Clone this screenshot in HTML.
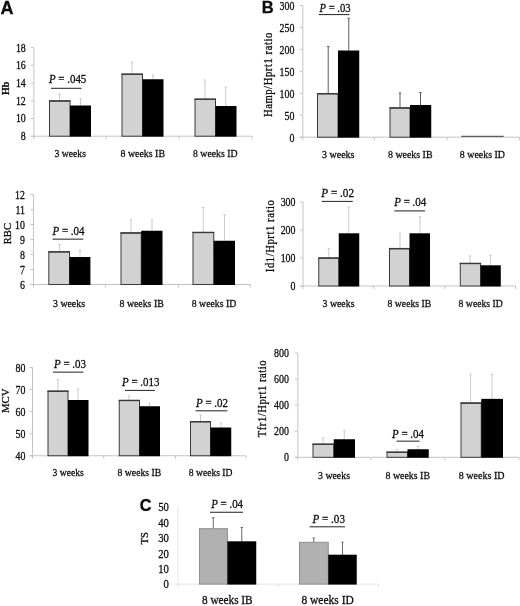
<!DOCTYPE html>
<html lang="en"><head><meta charset="utf-8"><title>Figure</title>
<style>html,body{margin:0;padding:0;background:#fff}svg{display:block;will-change:transform;opacity:.999}text{font-family:"Liberation Serif", serif;fill:#0c0c0c;stroke:#0c0c0c;stroke-width:.28px;paint-order:stroke fill}</style>
</head><body>
<svg width="520" height="606" viewBox="0 0 520 606">
<rect width="520" height="606" fill="#fff"/>
<line x1="33.8" y1="47.6" x2="33.8" y2="139.2" stroke="#c4c4c4" stroke-width="1"/>
<line x1="30.8" y1="136.2" x2="252" y2="136.2" stroke="#c4c4c4" stroke-width="1"/>
<line x1="30.8" y1="47.6" x2="33.8" y2="47.6" stroke="#c4c4c4" stroke-width="1"/>
<text transform="translate(25.8,51.6) scale(0.86,1)" font-size="11.5" text-anchor="end">18</text>
<line x1="30.8" y1="65.32" x2="33.8" y2="65.32" stroke="#c4c4c4" stroke-width="1"/>
<text transform="translate(25.8,69.31) scale(0.86,1)" font-size="11.5" text-anchor="end">16</text>
<line x1="30.8" y1="83.04" x2="33.8" y2="83.04" stroke="#c4c4c4" stroke-width="1"/>
<text transform="translate(25.8,87.03) scale(0.86,1)" font-size="11.5" text-anchor="end">14</text>
<line x1="30.8" y1="100.76" x2="33.8" y2="100.76" stroke="#c4c4c4" stroke-width="1"/>
<text transform="translate(25.8,104.75) scale(0.86,1)" font-size="11.5" text-anchor="end">12</text>
<line x1="30.8" y1="118.48" x2="33.8" y2="118.48" stroke="#c4c4c4" stroke-width="1"/>
<text transform="translate(25.8,122.47) scale(0.86,1)" font-size="11.5" text-anchor="end">10</text>
<line x1="30.8" y1="136.2" x2="33.8" y2="136.2" stroke="#c4c4c4" stroke-width="1"/>
<text transform="translate(25.8,140.19) scale(0.86,1)" font-size="11.5" text-anchor="end">8</text>
<line x1="106" y1="136.2" x2="106" y2="139.2" stroke="#c4c4c4" stroke-width="1"/>
<line x1="179" y1="136.2" x2="179" y2="139.2" stroke="#c4c4c4" stroke-width="1"/>
<line x1="252" y1="136.2" x2="252" y2="139.2" stroke="#c4c4c4" stroke-width="1"/>
<line x1="59.5" y1="93.75" x2="59.5" y2="100.5" stroke="#cacaca" stroke-width="1"/>
<line x1="58.3" y1="93.75" x2="60.7" y2="93.75" stroke="#cacaca" stroke-width="1"/>
<line x1="80.5" y1="98.75" x2="80.5" y2="105.5" stroke="#cacaca" stroke-width="1"/>
<line x1="79.3" y1="98.75" x2="81.7" y2="98.75" stroke="#cacaca" stroke-width="1"/>
<line x1="132" y1="62" x2="132" y2="73.75" stroke="#cacaca" stroke-width="1"/>
<line x1="130.8" y1="62" x2="133.2" y2="62" stroke="#cacaca" stroke-width="1"/>
<line x1="153" y1="75" x2="153" y2="79.25" stroke="#cacaca" stroke-width="1"/>
<line x1="151.8" y1="75" x2="154.2" y2="75" stroke="#cacaca" stroke-width="1"/>
<line x1="205" y1="80" x2="205" y2="98.75" stroke="#cacaca" stroke-width="1"/>
<line x1="203.8" y1="80" x2="206.2" y2="80" stroke="#cacaca" stroke-width="1"/>
<line x1="225.75" y1="87" x2="225.75" y2="106" stroke="#cacaca" stroke-width="1"/>
<line x1="224.55" y1="87" x2="226.95" y2="87" stroke="#cacaca" stroke-width="1"/>
<rect x="49.5" y="101" width="20.5" height="35.2" fill="#d2d2d2" stroke="#3a3a3a" stroke-width="1"/>
<line x1="48.9" y1="100.95" x2="70.5" y2="100.95" stroke="#3a3a3a" stroke-width="1.45"/>
<rect x="70" y="105.5" width="21" height="31.2" fill="#000"/>
<rect x="122" y="74.25" width="20.5" height="61.95" fill="#d2d2d2" stroke="#3a3a3a" stroke-width="1"/>
<line x1="121.4" y1="74.2" x2="143" y2="74.2" stroke="#3a3a3a" stroke-width="1.45"/>
<rect x="142.5" y="79.25" width="21" height="57.45" fill="#000"/>
<rect x="195" y="99.25" width="20.5" height="36.95" fill="#d2d2d2" stroke="#3a3a3a" stroke-width="1"/>
<line x1="194.4" y1="99.2" x2="216" y2="99.2" stroke="#3a3a3a" stroke-width="1.45"/>
<rect x="215.5" y="106" width="21" height="30.7" fill="#000"/>
<line x1="51" y1="88.3" x2="81.6" y2="88.3" stroke="#222" stroke-width="1"/>
<text x="49" y="82.7" font-size="11.5" textLength="37.3" lengthAdjust="spacingAndGlyphs"><tspan font-style="italic">P</tspan> = .045</text>
<text x="54.5" y="157.1" font-size="11" textLength="31.5" lengthAdjust="spacingAndGlyphs">3 weeks</text>
<text x="120.5" y="157.1" font-size="11" textLength="44.5" lengthAdjust="spacingAndGlyphs">8 weeks IB</text>
<text x="193" y="157.1" font-size="11" textLength="44.5" lengthAdjust="spacingAndGlyphs">8 weeks ID</text>
<text transform="translate(9,94.9) rotate(-90)" font-size="11" font-weight="bold" textLength="13.3" lengthAdjust="spacingAndGlyphs">Hb</text>
<line x1="33.5" y1="194.6" x2="33.5" y2="287.5" stroke="#c4c4c4" stroke-width="1"/>
<line x1="30.5" y1="284.5" x2="250.4" y2="284.5" stroke="#c4c4c4" stroke-width="1"/>
<line x1="30.5" y1="194.6" x2="33.5" y2="194.6" stroke="#c4c4c4" stroke-width="1"/>
<text transform="translate(25,198.59) scale(0.86,1)" font-size="11.5" text-anchor="end">12</text>
<line x1="30.5" y1="209.58" x2="33.5" y2="209.58" stroke="#c4c4c4" stroke-width="1"/>
<text transform="translate(25,213.58) scale(0.86,1)" font-size="11.5" text-anchor="end">11</text>
<line x1="30.5" y1="224.57" x2="33.5" y2="224.57" stroke="#c4c4c4" stroke-width="1"/>
<text transform="translate(25,228.56) scale(0.86,1)" font-size="11.5" text-anchor="end">10</text>
<line x1="30.5" y1="239.55" x2="33.5" y2="239.55" stroke="#c4c4c4" stroke-width="1"/>
<text transform="translate(25,243.54) scale(0.86,1)" font-size="11.5" text-anchor="end">9</text>
<line x1="30.5" y1="254.53" x2="33.5" y2="254.53" stroke="#c4c4c4" stroke-width="1"/>
<text transform="translate(25,258.53) scale(0.86,1)" font-size="11.5" text-anchor="end">8</text>
<line x1="30.5" y1="269.52" x2="33.5" y2="269.52" stroke="#c4c4c4" stroke-width="1"/>
<text transform="translate(25,273.51) scale(0.86,1)" font-size="11.5" text-anchor="end">7</text>
<line x1="30.5" y1="284.5" x2="33.5" y2="284.5" stroke="#c4c4c4" stroke-width="1"/>
<text transform="translate(25,288.5) scale(0.86,1)" font-size="11.5" text-anchor="end">6</text>
<line x1="105.4" y1="284.5" x2="105.4" y2="287.5" stroke="#c4c4c4" stroke-width="1"/>
<line x1="178.4" y1="284.5" x2="178.4" y2="287.5" stroke="#c4c4c4" stroke-width="1"/>
<line x1="250.4" y1="284.5" x2="250.4" y2="287.5" stroke="#c4c4c4" stroke-width="1"/>
<line x1="59.5" y1="244.5" x2="59.5" y2="251.75" stroke="#cacaca" stroke-width="1"/>
<line x1="58.3" y1="244.5" x2="60.7" y2="244.5" stroke="#cacaca" stroke-width="1"/>
<line x1="80" y1="250.5" x2="80" y2="257" stroke="#cacaca" stroke-width="1"/>
<line x1="78.8" y1="250.5" x2="81.2" y2="250.5" stroke="#cacaca" stroke-width="1"/>
<line x1="131" y1="219.3" x2="131" y2="232.5" stroke="#cacaca" stroke-width="1"/>
<line x1="129.8" y1="219.3" x2="132.2" y2="219.3" stroke="#cacaca" stroke-width="1"/>
<line x1="152" y1="220.1" x2="152" y2="230.75" stroke="#cacaca" stroke-width="1"/>
<line x1="150.8" y1="220.1" x2="153.2" y2="220.1" stroke="#cacaca" stroke-width="1"/>
<line x1="203.25" y1="207.5" x2="203.25" y2="232" stroke="#cacaca" stroke-width="1"/>
<line x1="202.05" y1="207.5" x2="204.45" y2="207.5" stroke="#cacaca" stroke-width="1"/>
<line x1="224.5" y1="214.5" x2="224.5" y2="240.75" stroke="#cacaca" stroke-width="1"/>
<line x1="223.3" y1="214.5" x2="225.7" y2="214.5" stroke="#cacaca" stroke-width="1"/>
<rect x="48.8" y="251.9" width="20.7" height="32.6" fill="#d2d2d2" stroke="#3a3a3a" stroke-width="1"/>
<line x1="48.2" y1="251.85" x2="70" y2="251.85" stroke="#3a3a3a" stroke-width="1.45"/>
<rect x="69.5" y="257" width="20.9" height="28" fill="#000"/>
<rect x="121" y="233" width="20.25" height="51.5" fill="#d2d2d2" stroke="#3a3a3a" stroke-width="1"/>
<line x1="120.4" y1="232.95" x2="141.75" y2="232.95" stroke="#3a3a3a" stroke-width="1.45"/>
<rect x="141.25" y="230.75" width="21.25" height="54.25" fill="#000"/>
<rect x="193" y="232.5" width="20.75" height="52" fill="#d2d2d2" stroke="#3a3a3a" stroke-width="1"/>
<line x1="192.4" y1="232.45" x2="214.25" y2="232.45" stroke="#3a3a3a" stroke-width="1.45"/>
<rect x="213.75" y="240.75" width="21.25" height="44.25" fill="#000"/>
<line x1="52.5" y1="239.15" x2="83.3" y2="239.15" stroke="#222" stroke-width="1"/>
<text x="52.5" y="234.5" font-size="11.5" textLength="32" lengthAdjust="spacingAndGlyphs"><tspan font-style="italic">P</tspan> = .04</text>
<text x="53" y="307.1" font-size="11" textLength="32" lengthAdjust="spacingAndGlyphs">3 weeks</text>
<text x="119.5" y="307.1" font-size="11" textLength="44.25" lengthAdjust="spacingAndGlyphs">8 weeks IB</text>
<text x="191.75" y="307.1" font-size="11" textLength="44.5" lengthAdjust="spacingAndGlyphs">8 weeks ID</text>
<text transform="translate(11.3,244.3) rotate(-90)" font-size="11" textLength="21.3" lengthAdjust="spacingAndGlyphs">RBC</text>
<line x1="32.5" y1="367.5" x2="32.5" y2="458.75" stroke="#c4c4c4" stroke-width="1"/>
<line x1="29.5" y1="455.75" x2="246" y2="455.75" stroke="#c4c4c4" stroke-width="1"/>
<line x1="29.5" y1="367.5" x2="32.5" y2="367.5" stroke="#c4c4c4" stroke-width="1"/>
<text transform="translate(25.5,371.5) scale(0.86,1)" font-size="11.5" text-anchor="end">80</text>
<line x1="29.5" y1="389.56" x2="32.5" y2="389.56" stroke="#c4c4c4" stroke-width="1"/>
<text transform="translate(25.5,393.56) scale(0.86,1)" font-size="11.5" text-anchor="end">70</text>
<line x1="29.5" y1="411.62" x2="32.5" y2="411.62" stroke="#c4c4c4" stroke-width="1"/>
<text transform="translate(25.5,415.62) scale(0.86,1)" font-size="11.5" text-anchor="end">60</text>
<line x1="29.5" y1="433.69" x2="32.5" y2="433.69" stroke="#c4c4c4" stroke-width="1"/>
<text transform="translate(25.5,437.68) scale(0.86,1)" font-size="11.5" text-anchor="end">50</text>
<line x1="29.5" y1="455.75" x2="32.5" y2="455.75" stroke="#c4c4c4" stroke-width="1"/>
<text transform="translate(25.5,459.75) scale(0.86,1)" font-size="11.5" text-anchor="end">40</text>
<line x1="103.75" y1="455.75" x2="103.75" y2="458.75" stroke="#c4c4c4" stroke-width="1"/>
<line x1="175.4" y1="455.75" x2="175.4" y2="458.75" stroke="#c4c4c4" stroke-width="1"/>
<line x1="246" y1="455.75" x2="246" y2="458.75" stroke="#c4c4c4" stroke-width="1"/>
<line x1="58" y1="379.5" x2="58" y2="390.75" stroke="#cacaca" stroke-width="1"/>
<line x1="56.8" y1="379.5" x2="59.2" y2="379.5" stroke="#cacaca" stroke-width="1"/>
<line x1="78" y1="388.9" x2="78" y2="400" stroke="#cacaca" stroke-width="1"/>
<line x1="76.8" y1="388.9" x2="79.2" y2="388.9" stroke="#cacaca" stroke-width="1"/>
<line x1="129" y1="396" x2="129" y2="400" stroke="#cacaca" stroke-width="1"/>
<line x1="127.8" y1="396" x2="130.2" y2="396" stroke="#cacaca" stroke-width="1"/>
<line x1="149.5" y1="403" x2="149.5" y2="406.25" stroke="#cacaca" stroke-width="1"/>
<line x1="148.3" y1="403" x2="150.7" y2="403" stroke="#cacaca" stroke-width="1"/>
<line x1="200.5" y1="415" x2="200.5" y2="421.25" stroke="#cacaca" stroke-width="1"/>
<line x1="199.3" y1="415" x2="201.7" y2="415" stroke="#cacaca" stroke-width="1"/>
<line x1="221" y1="423" x2="221" y2="427.5" stroke="#cacaca" stroke-width="1"/>
<line x1="219.8" y1="423" x2="222.2" y2="423" stroke="#cacaca" stroke-width="1"/>
<rect x="48" y="391.25" width="20" height="64.5" fill="#d2d2d2" stroke="#3a3a3a" stroke-width="1"/>
<line x1="47.4" y1="391.2" x2="68.5" y2="391.2" stroke="#3a3a3a" stroke-width="1.45"/>
<rect x="68" y="400" width="20.5" height="56.25" fill="#000"/>
<rect x="119.25" y="400.5" width="20.25" height="55.25" fill="#d2d2d2" stroke="#3a3a3a" stroke-width="1"/>
<line x1="118.65" y1="400.45" x2="140" y2="400.45" stroke="#3a3a3a" stroke-width="1.45"/>
<rect x="139.5" y="406.25" width="20.5" height="50" fill="#000"/>
<rect x="190.5" y="421.75" width="20" height="34" fill="#d2d2d2" stroke="#3a3a3a" stroke-width="1"/>
<line x1="189.9" y1="421.7" x2="211" y2="421.7" stroke="#3a3a3a" stroke-width="1.45"/>
<rect x="210.5" y="427.5" width="20.75" height="28.75" fill="#000"/>
<line x1="53" y1="372.15" x2="83.3" y2="372.15" stroke="#222" stroke-width="1"/>
<text x="54" y="368" font-size="11.5" textLength="32" lengthAdjust="spacingAndGlyphs"><tspan font-style="italic">P</tspan> = .03</text>
<line x1="125" y1="390.4" x2="155.05" y2="390.4" stroke="#222" stroke-width="1"/>
<text x="122" y="385.5" font-size="11.5" textLength="37.5" lengthAdjust="spacingAndGlyphs"><tspan font-style="italic">P</tspan> = .013</text>
<line x1="195.5" y1="410.8" x2="227.3" y2="410.8" stroke="#222" stroke-width="1"/>
<text x="196" y="406.7" font-size="11.5" textLength="32" lengthAdjust="spacingAndGlyphs"><tspan font-style="italic">P</tspan> = .02</text>
<text x="52.5" y="476.1" font-size="11" textLength="31.25" lengthAdjust="spacingAndGlyphs">3 weeks</text>
<text x="117.5" y="476.1" font-size="11" textLength="43.75" lengthAdjust="spacingAndGlyphs">8 weeks IB</text>
<text x="188.75" y="476.1" font-size="11" textLength="43.75" lengthAdjust="spacingAndGlyphs">8 weeks ID</text>
<text transform="translate(8.5,413) rotate(-90)" font-size="11" textLength="24.6" lengthAdjust="spacingAndGlyphs">MCV</text>
<line x1="302.8" y1="5.5" x2="302.8" y2="140.2" stroke="#c4c4c4" stroke-width="1"/>
<line x1="299.8" y1="137.2" x2="519.5" y2="137.2" stroke="#c4c4c4" stroke-width="1"/>
<line x1="299.8" y1="5.5" x2="302.8" y2="5.5" stroke="#c4c4c4" stroke-width="1"/>
<text transform="translate(294.4,9.99) scale(0.86,1)" font-size="11.5" text-anchor="end">300</text>
<line x1="299.8" y1="27.45" x2="302.8" y2="27.45" stroke="#c4c4c4" stroke-width="1"/>
<text transform="translate(294.4,31.95) scale(0.86,1)" font-size="11.5" text-anchor="end">250</text>
<line x1="299.8" y1="49.4" x2="302.8" y2="49.4" stroke="#c4c4c4" stroke-width="1"/>
<text transform="translate(294.4,53.9) scale(0.86,1)" font-size="11.5" text-anchor="end">200</text>
<line x1="299.8" y1="71.35" x2="302.8" y2="71.35" stroke="#c4c4c4" stroke-width="1"/>
<text transform="translate(294.4,75.84) scale(0.86,1)" font-size="11.5" text-anchor="end">150</text>
<line x1="299.8" y1="93.3" x2="302.8" y2="93.3" stroke="#c4c4c4" stroke-width="1"/>
<text transform="translate(294.4,97.8) scale(0.86,1)" font-size="11.5" text-anchor="end">100</text>
<line x1="299.8" y1="115.25" x2="302.8" y2="115.25" stroke="#c4c4c4" stroke-width="1"/>
<text transform="translate(294.4,119.75) scale(0.86,1)" font-size="11.5" text-anchor="end">50</text>
<line x1="299.8" y1="137.2" x2="302.8" y2="137.2" stroke="#c4c4c4" stroke-width="1"/>
<text transform="translate(294.4,141.69) scale(0.86,1)" font-size="11.5" text-anchor="end">0</text>
<line x1="374.4" y1="137.2" x2="374.4" y2="140.2" stroke="#c4c4c4" stroke-width="1"/>
<line x1="447" y1="137.2" x2="447" y2="140.2" stroke="#c4c4c4" stroke-width="1"/>
<line x1="519.5" y1="137.2" x2="519.5" y2="140.2" stroke="#c4c4c4" stroke-width="1"/>
<line x1="328.2" y1="46.6" x2="328.2" y2="93.25" stroke="#5a5a5a" stroke-width="1"/>
<line x1="327" y1="46.6" x2="329.4" y2="46.6" stroke="#5a5a5a" stroke-width="1"/>
<line x1="348.75" y1="18.2" x2="348.75" y2="50.5" stroke="#5a5a5a" stroke-width="1"/>
<line x1="347.55" y1="18.2" x2="349.95" y2="18.2" stroke="#5a5a5a" stroke-width="1"/>
<line x1="400" y1="93" x2="400" y2="107.5" stroke="#5a5a5a" stroke-width="1"/>
<line x1="398.8" y1="93" x2="401.2" y2="93" stroke="#5a5a5a" stroke-width="1"/>
<line x1="420.5" y1="92.5" x2="420.5" y2="105" stroke="#5a5a5a" stroke-width="1"/>
<line x1="419.3" y1="92.5" x2="421.7" y2="92.5" stroke="#5a5a5a" stroke-width="1"/>
<rect x="317.5" y="93.75" width="20.5" height="43.45" fill="#d2d2d2" stroke="#3a3a3a" stroke-width="1"/>
<line x1="316.9" y1="93.7" x2="338.5" y2="93.7" stroke="#3a3a3a" stroke-width="1.45"/>
<rect x="338" y="50.5" width="21.25" height="87.2" fill="#000"/>
<rect x="390" y="108" width="20" height="29.2" fill="#d2d2d2" stroke="#3a3a3a" stroke-width="1"/>
<line x1="389.4" y1="107.95" x2="410.5" y2="107.95" stroke="#3a3a3a" stroke-width="1.45"/>
<rect x="410" y="105" width="21.25" height="32.7" fill="#000"/>
<rect x="461.25" y="135.8" width="42.5" height="1" fill="#3c3c3c"/>
<line x1="318.6" y1="14.6" x2="349.4" y2="14.6" stroke="#222" stroke-width="1"/>
<text x="319.6" y="11.85" font-size="11.5" textLength="31" lengthAdjust="spacingAndGlyphs"><tspan font-style="italic">P</tspan> = .03</text>
<text x="322" y="158.1" font-size="11" textLength="32.5" lengthAdjust="spacingAndGlyphs">3 weeks</text>
<text x="388" y="158.1" font-size="11" textLength="44.5" lengthAdjust="spacingAndGlyphs">8 weeks IB</text>
<text x="459.8" y="158.1" font-size="11" textLength="45.2" lengthAdjust="spacingAndGlyphs">8 weeks ID</text>
<text transform="translate(271.5,117.1) rotate(-90) scale(0.86,1)" font-size="12.3" textLength="98.14" lengthAdjust="spacing">Hamp/Hprt1 ratio</text>
<line x1="303" y1="202" x2="303" y2="289" stroke="#c4c4c4" stroke-width="1"/>
<line x1="300" y1="286" x2="515.6" y2="286" stroke="#c4c4c4" stroke-width="1"/>
<line x1="300" y1="202" x2="303" y2="202" stroke="#c4c4c4" stroke-width="1"/>
<text transform="translate(295.5,205.99) scale(0.86,1)" font-size="11.5" text-anchor="end">300</text>
<line x1="300" y1="230" x2="303" y2="230" stroke="#c4c4c4" stroke-width="1"/>
<text transform="translate(295.5,233.99) scale(0.86,1)" font-size="11.5" text-anchor="end">200</text>
<line x1="300" y1="258" x2="303" y2="258" stroke="#c4c4c4" stroke-width="1"/>
<text transform="translate(295.5,262) scale(0.86,1)" font-size="11.5" text-anchor="end">100</text>
<line x1="300" y1="286" x2="303" y2="286" stroke="#c4c4c4" stroke-width="1"/>
<text transform="translate(295.5,290) scale(0.86,1)" font-size="11.5" text-anchor="end">0</text>
<line x1="373.8" y1="286" x2="373.8" y2="289" stroke="#c4c4c4" stroke-width="1"/>
<line x1="444.8" y1="286" x2="444.8" y2="289" stroke="#c4c4c4" stroke-width="1"/>
<line x1="515.6" y1="286" x2="515.6" y2="289" stroke="#c4c4c4" stroke-width="1"/>
<line x1="328.75" y1="248.4" x2="328.75" y2="258" stroke="#cacaca" stroke-width="1"/>
<line x1="327.55" y1="248.4" x2="329.95" y2="248.4" stroke="#cacaca" stroke-width="1"/>
<line x1="348.75" y1="207.2" x2="348.75" y2="233.75" stroke="#cacaca" stroke-width="1"/>
<line x1="347.55" y1="207.2" x2="349.95" y2="207.2" stroke="#cacaca" stroke-width="1"/>
<line x1="400" y1="233" x2="400" y2="248.75" stroke="#cacaca" stroke-width="1"/>
<line x1="398.8" y1="233" x2="401.2" y2="233" stroke="#cacaca" stroke-width="1"/>
<line x1="420" y1="216.7" x2="420" y2="233.75" stroke="#cacaca" stroke-width="1"/>
<line x1="418.8" y1="216.7" x2="421.2" y2="216.7" stroke="#cacaca" stroke-width="1"/>
<line x1="470" y1="255.9" x2="470" y2="263.25" stroke="#cacaca" stroke-width="1"/>
<line x1="468.8" y1="255.9" x2="471.2" y2="255.9" stroke="#cacaca" stroke-width="1"/>
<line x1="490.5" y1="255.2" x2="490.5" y2="265.5" stroke="#cacaca" stroke-width="1"/>
<line x1="489.3" y1="255.2" x2="491.7" y2="255.2" stroke="#cacaca" stroke-width="1"/>
<rect x="318.75" y="258.1" width="20" height="27.9" fill="#d2d2d2" stroke="#3a3a3a" stroke-width="1"/>
<line x1="318.15" y1="258.05" x2="339.25" y2="258.05" stroke="#3a3a3a" stroke-width="1.45"/>
<rect x="338.75" y="233.3" width="20.5" height="53.2" fill="#000"/>
<rect x="389.5" y="248.7" width="20" height="37.3" fill="#d2d2d2" stroke="#3a3a3a" stroke-width="1"/>
<line x1="388.9" y1="248.65" x2="410" y2="248.65" stroke="#3a3a3a" stroke-width="1.45"/>
<rect x="409.5" y="233.3" width="20.5" height="53.2" fill="#000"/>
<rect x="460.3" y="263.5" width="20.3" height="22.5" fill="#d2d2d2" stroke="#3a3a3a" stroke-width="1"/>
<line x1="459.7" y1="263.45" x2="481.1" y2="263.45" stroke="#3a3a3a" stroke-width="1.45"/>
<rect x="480.6" y="265.3" width="20.2" height="21.2" fill="#000"/>
<line x1="321.75" y1="201.4" x2="352.8" y2="201.4" stroke="#222" stroke-width="1"/>
<text x="321.3" y="197.2" font-size="11.5" textLength="32.7" lengthAdjust="spacingAndGlyphs"><tspan font-style="italic">P</tspan> = .02</text>
<line x1="394.25" y1="210.9" x2="425.05" y2="210.9" stroke="#222" stroke-width="1"/>
<text x="394.25" y="206.4" font-size="11.5" textLength="32" lengthAdjust="spacingAndGlyphs"><tspan font-style="italic">P</tspan> = .04</text>
<text x="322.5" y="306.8" font-size="11" textLength="32" lengthAdjust="spacingAndGlyphs">3 weeks</text>
<text x="387.6" y="306.8" font-size="11" textLength="43.6" lengthAdjust="spacingAndGlyphs">8 weeks IB</text>
<text x="458.6" y="306.8" font-size="11" textLength="44.2" lengthAdjust="spacingAndGlyphs">8 weeks ID</text>
<text transform="translate(273.6,272.2) rotate(-90) scale(0.86,1)" font-size="12.3" textLength="83.72" lengthAdjust="spacing">Id1/Hprt1 ratio</text>
<line x1="297.8" y1="353" x2="297.8" y2="460.3" stroke="#c4c4c4" stroke-width="1"/>
<line x1="294.8" y1="457.3" x2="519" y2="457.3" stroke="#c4c4c4" stroke-width="1"/>
<line x1="294.8" y1="353" x2="297.8" y2="353" stroke="#c4c4c4" stroke-width="1"/>
<text transform="translate(288.9,357) scale(0.86,1)" font-size="11.5" text-anchor="end">800</text>
<line x1="294.8" y1="379.07" x2="297.8" y2="379.07" stroke="#c4c4c4" stroke-width="1"/>
<text transform="translate(288.9,383.07) scale(0.86,1)" font-size="11.5" text-anchor="end">600</text>
<line x1="294.8" y1="405.15" x2="297.8" y2="405.15" stroke="#c4c4c4" stroke-width="1"/>
<text transform="translate(288.9,409.14) scale(0.86,1)" font-size="11.5" text-anchor="end">400</text>
<line x1="294.8" y1="431.23" x2="297.8" y2="431.23" stroke="#c4c4c4" stroke-width="1"/>
<text transform="translate(288.9,435.22) scale(0.86,1)" font-size="11.5" text-anchor="end">200</text>
<line x1="294.8" y1="457.3" x2="297.8" y2="457.3" stroke="#c4c4c4" stroke-width="1"/>
<text transform="translate(288.9,461.3) scale(0.86,1)" font-size="11.5" text-anchor="end">0</text>
<line x1="370.75" y1="457.3" x2="370.75" y2="460.3" stroke="#c4c4c4" stroke-width="1"/>
<line x1="445" y1="457.3" x2="445" y2="460.3" stroke="#c4c4c4" stroke-width="1"/>
<line x1="519" y1="457.3" x2="519" y2="460.3" stroke="#c4c4c4" stroke-width="1"/>
<line x1="323" y1="438" x2="323" y2="443.75" stroke="#cacaca" stroke-width="1"/>
<line x1="321.8" y1="438" x2="324.2" y2="438" stroke="#cacaca" stroke-width="1"/>
<line x1="344.25" y1="430.75" x2="344.25" y2="439.25" stroke="#cacaca" stroke-width="1"/>
<line x1="343.05" y1="430.75" x2="345.45" y2="430.75" stroke="#cacaca" stroke-width="1"/>
<line x1="397" y1="449.5" x2="397" y2="451.75" stroke="#cacaca" stroke-width="1"/>
<line x1="395.8" y1="449.5" x2="398.2" y2="449.5" stroke="#cacaca" stroke-width="1"/>
<line x1="418" y1="446.25" x2="418" y2="449.25" stroke="#cacaca" stroke-width="1"/>
<line x1="416.8" y1="446.25" x2="419.2" y2="446.25" stroke="#cacaca" stroke-width="1"/>
<line x1="470.5" y1="374.3" x2="470.5" y2="403" stroke="#cacaca" stroke-width="1"/>
<line x1="469.3" y1="374.3" x2="471.7" y2="374.3" stroke="#cacaca" stroke-width="1"/>
<line x1="492" y1="374.5" x2="492" y2="399.25" stroke="#cacaca" stroke-width="1"/>
<line x1="490.8" y1="374.5" x2="493.2" y2="374.5" stroke="#cacaca" stroke-width="1"/>
<rect x="313" y="444.25" width="20.75" height="13.05" fill="#d2d2d2" stroke="#3a3a3a" stroke-width="1"/>
<line x1="312.4" y1="444.2" x2="334.25" y2="444.2" stroke="#3a3a3a" stroke-width="1.45"/>
<rect x="333.75" y="439.25" width="21.25" height="18.55" fill="#000"/>
<rect x="387" y="452.25" width="20.5" height="5.05" fill="#d2d2d2" stroke="#3a3a3a" stroke-width="1"/>
<line x1="386.4" y1="452.2" x2="408" y2="452.2" stroke="#3a3a3a" stroke-width="1.45"/>
<rect x="407.5" y="449.25" width="21.25" height="8.55" fill="#000"/>
<rect x="461" y="403.1" width="20.25" height="54.2" fill="#d2d2d2" stroke="#3a3a3a" stroke-width="1"/>
<line x1="460.4" y1="403.05" x2="481.75" y2="403.05" stroke="#3a3a3a" stroke-width="1.45"/>
<rect x="481.25" y="398.85" width="21.75" height="58.95" fill="#000"/>
<line x1="396.6" y1="441.15" x2="419.6" y2="441.15" stroke="#222" stroke-width="1"/>
<text x="392" y="437.5" font-size="11.5" textLength="32" lengthAdjust="spacingAndGlyphs"><tspan font-style="italic">P</tspan> = .04</text>
<text x="318" y="478.75" font-size="11" textLength="32" lengthAdjust="spacingAndGlyphs">3 weeks</text>
<text x="385.5" y="478.75" font-size="11" textLength="44.5" lengthAdjust="spacingAndGlyphs">8 weeks IB</text>
<text x="458.75" y="478.75" font-size="11" textLength="45.75" lengthAdjust="spacingAndGlyphs">8 weeks ID</text>
<text transform="translate(265.6,437.3) rotate(-90) scale(0.86,1)" font-size="12.3" textLength="89.42" lengthAdjust="spacing">Tfr1/Hprt1 ratio</text>
<line x1="178" y1="506.8" x2="178" y2="587.1" stroke="#e3e3e3" stroke-width="1"/>
<line x1="175" y1="584.1" x2="378.5" y2="584.1" stroke="#e3e3e3" stroke-width="1"/>
<text transform="translate(168.9,511.12) scale(0.86,1)" font-size="12.5" text-anchor="end">50</text>
<text transform="translate(168.9,526.59) scale(0.86,1)" font-size="12.5" text-anchor="end">40</text>
<text transform="translate(168.9,542.05) scale(0.86,1)" font-size="12.5" text-anchor="end">30</text>
<text transform="translate(168.9,557.51) scale(0.86,1)" font-size="12.5" text-anchor="end">20</text>
<text transform="translate(168.9,572.97) scale(0.86,1)" font-size="12.5" text-anchor="end">10</text>
<text transform="translate(168.9,588.43) scale(0.86,1)" font-size="12.5" text-anchor="end">0</text>
<line x1="278" y1="584.1" x2="278" y2="587.1" stroke="#e3e3e3" stroke-width="1"/>
<line x1="378.5" y1="584.1" x2="378.5" y2="587.1" stroke="#e3e3e3" stroke-width="1"/>
<line x1="213.25" y1="517.7" x2="213.25" y2="528.5" stroke="#6a6a6a" stroke-width="1"/>
<line x1="212.05" y1="517.7" x2="214.45" y2="517.7" stroke="#6a6a6a" stroke-width="1"/>
<line x1="241.75" y1="527.5" x2="241.75" y2="541.5" stroke="#6a6a6a" stroke-width="1"/>
<line x1="240.55" y1="527.5" x2="242.95" y2="527.5" stroke="#6a6a6a" stroke-width="1"/>
<line x1="313.75" y1="538" x2="313.75" y2="542.25" stroke="#6a6a6a" stroke-width="1"/>
<line x1="312.55" y1="538" x2="314.95" y2="538" stroke="#6a6a6a" stroke-width="1"/>
<line x1="342.5" y1="542.25" x2="342.5" y2="555.25" stroke="#6a6a6a" stroke-width="1"/>
<line x1="341.3" y1="542.25" x2="343.7" y2="542.25" stroke="#6a6a6a" stroke-width="1"/>
<rect x="199.5" y="528.7" width="27.9" height="55.4" fill="#b1b1b1" stroke="#8e8e8e" stroke-width="1"/>
<rect x="227.4" y="541.3" width="28.85" height="43.3" fill="#000"/>
<rect x="299.5" y="542.3" width="28.75" height="41.8" fill="#b1b1b1" stroke="#8e8e8e" stroke-width="1"/>
<rect x="328.25" y="554.7" width="28.5" height="29.9" fill="#000"/>
<line x1="210" y1="512.25" x2="243" y2="512.25" stroke="#222" stroke-width="1"/>
<text x="211.25" y="508" font-size="12" textLength="31.75" lengthAdjust="spacingAndGlyphs"><tspan font-style="italic">P</tspan> = .04</text>
<line x1="309.6" y1="526.8" x2="345" y2="526.8" stroke="#222" stroke-width="1"/>
<text x="312.5" y="523" font-size="12" textLength="32.5" lengthAdjust="spacingAndGlyphs"><tspan font-style="italic">P</tspan> = .03</text>
<text x="202" y="604" font-size="12" textLength="50.6" lengthAdjust="spacingAndGlyphs">8 weeks IB</text>
<text x="301.4" y="604" font-size="12" textLength="52.4" lengthAdjust="spacingAndGlyphs">8 weeks ID</text>
<text transform="translate(148.4,544.4) rotate(-90)" font-size="11.3" textLength="12.4" lengthAdjust="spacingAndGlyphs">TS</text>
<text x="0.5" y="13.8" font-size="18" style='font-family:"Liberation Sans", sans-serif' font-weight="bold">A</text>
<text x="261.7" y="12.8" font-size="16.5" style='font-family:"Liberation Sans", sans-serif' font-weight="bold">B</text>
<text x="139.8" y="511.3" font-size="16.3" style='font-family:"Liberation Sans", sans-serif' font-weight="bold">C</text>
</svg></body></html>
